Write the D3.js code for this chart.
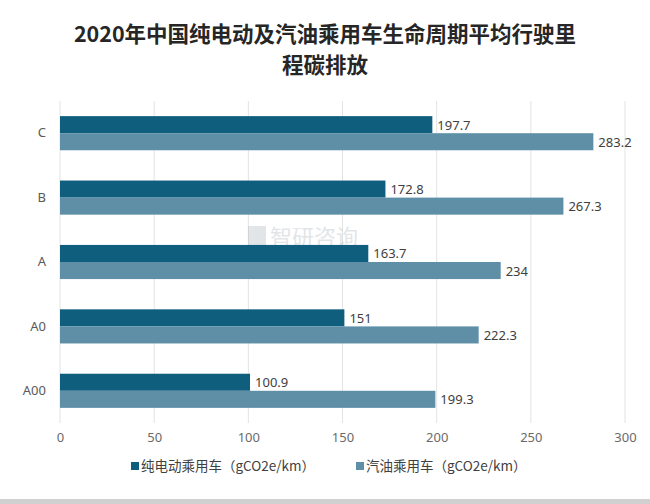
<!DOCTYPE html>
<html><head><meta charset="utf-8">
<script src="https://cdn.jsdelivr.net/npm/d3@7"></script>
<style>body{margin:0;background:#fff}svg{display:block}</style>
</head><body>
<svg id="c" width="650" height="504"></svg>
<script>
const categories = ["C", "B", "A", "A0", "A00"];
const evValues = [197.7, 172.8, 163.7, 151, 100.9];
const gasValues = [283.2, 267.3, 234, 222.3, 199.3];
const seriesNames = ["纯电动乘用车（gCO2e/km）", "汽油乘用车（gCO2e/km）"];
const xTicks = [0, 50, 100, 150, 200, 250, 300];
const titleLines = ["2020年中国纯电动及汽油乘用车生命周期平均行驶里", "程碳排放"];
const colors = ["#0f5e7d", "#5e8fa7"];

const svg = d3.select("#c");
const W = 650, H = 504;
const m = {left: 60, top: 101};
const x = d3.scaleLinear().domain([0, 300]).range([m.left, 625]);
const y = d3.scaleBand().domain(categories).range([m.top, 423]).paddingInner(0.47).paddingOuter(0.235);
const ySub = d3.scaleBand().domain([0, 1]).range([0, y.bandwidth()]);

svg.append("rect").attr("width", W).attr("height", H).attr("fill", "#fff");

// title
svg.append("g").selectAll("text").data(titleLines).join("text")
  .attr("x", 325).attr("y", (d, i) => 42 + i * 31)
  .attr("text-anchor", "middle")
  .attr("font-family", "'Noto Sans CJK SC', sans-serif")
  .attr("font-weight", "bold").attr("font-size", 21.5).attr("fill", "#262626")
  .text(d => d);

// grid
svg.append("g").selectAll("line").data(xTicks).join("line")
  .attr("x1", d => x(d)).attr("x2", d => x(d))
  .attr("y1", m.top).attr("y2", 423)
  .attr("stroke", "#e3e3e3").attr("stroke-width", 1);

// x axis labels
const xAxis = d3.axisBottom(x).tickValues(xTicks).tickSize(0).tickPadding(0);
const xg = svg.append("g").attr("transform", "translate(0,433)").call(xAxis);
xg.select(".domain").remove();
xg.selectAll("text").attr("font-family", "'Liberation Sans Narrow', 'Noto Sans', sans-serif")
  .attr("font-size", 13).attr("fill", "#6a6a6a");

// y axis labels
const yAxis = d3.axisLeft(y).tickSize(0).tickPadding(0);
const yg = svg.append("g").attr("transform", "translate(46,0)").call(yAxis);
yg.select(".domain").remove();
yg.selectAll("text").attr("font-family", "'Liberation Sans Narrow', 'Noto Sans', sans-serif")
  .attr("font-size", 13).attr("fill", "#595959");

// watermark
const wm = svg.append("g").attr("opacity", 0.25);
wm.append("rect").attr("x", 248).attr("y", 226).attr("width", 18).attr("height", 20).attr("fill", "#8a9aa8");
wm.append("text").attr("x", 270).attr("y", 245).attr("font-family", "'Noto Sans CJK SC', sans-serif")
  .attr("font-size", 22).attr("fill", "#8a9aa8").text("智研咨询");
wm.append("text").attr("x", 250).attr("y", 268).attr("font-family", "'DejaVu Sans Mono', monospace")
  .attr("font-size", 11).attr("letter-spacing", 3).attr("fill", "#8a9aa8").text("www.chyxx.com");

// bars
const series = [evValues, gasValues];
series.forEach((vals, si) => {
  const g = svg.append("g");
  g.selectAll("rect").data(categories).join("rect")
    .attr("x", x(0))
    .attr("y", c => y(c) + ySub(si))
    .attr("width", (c, i) => x(vals[i]) - x(0))
    .attr("height", ySub.bandwidth())
    .attr("fill", colors[si]);
  g.selectAll("text").data(categories).join("text")
    .attr("x", (c, i) => x(vals[i]) + 5)
    .attr("y", c => y(c) + ySub(si) + ySub.bandwidth() / 2 + 5)
    .attr("font-family", "'Liberation Sans Narrow', 'Noto Sans', sans-serif")
    .attr("font-size", 13).attr("fill", "#404040")
    .text((c, i) => vals[i]);
});

// legend
const lx = [131, 356];
const lg = svg.append("g");
seriesNames.forEach((n, i) => {
  lg.append("rect").attr("x", lx[i]).attr("y", 462).attr("width", 8).attr("height", 8).attr("fill", colors[i]);
  lg.append("text").attr("x", lx[i] + 10).attr("y", 471)
    .attr("font-family", "'Noto Sans CJK SC', sans-serif")
    .attr("font-size", 13.5).attr("fill", "#404040").text(n);
});

// bottom frame
svg.append("rect").attr("x", 0).attr("y", 499).attr("width", W).attr("height", 5).attr("fill", "#d0d0d0");
</script>
</body></html>
